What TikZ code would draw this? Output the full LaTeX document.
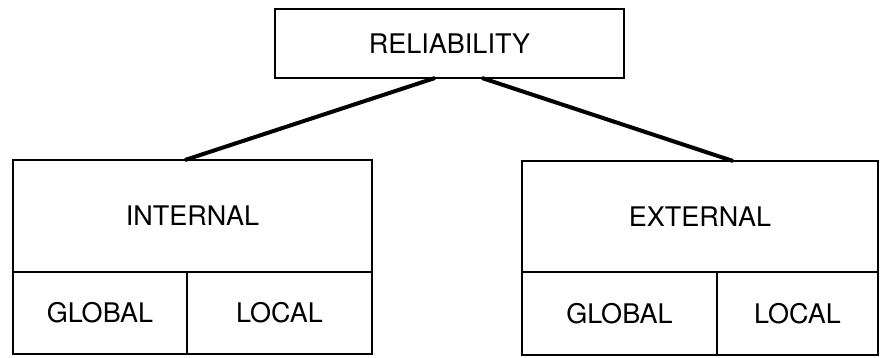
\documentclass[tikz,border=0pt]{standalone}
\usepackage{fontspec}
\setmainfont{TeX Gyre Heros}
\tikzset{
  cell/.style={draw, line width=1pt, rectangle, inner sep=0pt, outer sep=0pt, font=\fontsize{13.5}{15}\selectfont},
  branch/.style={line width=2pt}
}
\begin{document}
\begin{tikzpicture}[x=0.5pt, y=-0.5pt]
          \useasboundingbox (0, 0) rectangle (880, 358);
          \node[cell, minimum width=349*0.5pt, minimum height=69*0.5pt] (rel) at (449.5, 43.5) {RELIABILITY};
          % left block
          \node[cell, minimum width=359*0.5pt, minimum height=112*0.5pt] (intl) at (192.5, 216) {INTERNAL};
          \node[cell, anchor=north west, minimum width=174*0.5pt, minimum height=82*0.5pt] (iglob) at (intl.south west) {GLOBAL};
          \node[cell, anchor=north east, minimum width=185*0.5pt, minimum height=82*0.5pt] (iloc) at (intl.south east) {LOCAL};
          % right block
          \node[cell, minimum width=356*0.5pt, minimum height=111*0.5pt] (extl) at (700, 216.5) {EXTERNAL};
          \node[cell, anchor=north west, minimum width=195*0.5pt, minimum height=83*0.5pt] (eglob) at (extl.south west) {GLOBAL};
          \node[cell, anchor=north east, minimum width=161*0.5pt, minimum height=83*0.5pt] (eloc) at (extl.south east) {LOCAL};
          \draw[branch] ([xshift=-7.25pt]rel.south) -- ([xshift=-3.75pt]intl.north);
          \draw[branch] ([xshift=16.25pt]rel.south) -- ([xshift=16.5pt]extl.north);
    \end{tikzpicture}
\end{document}
